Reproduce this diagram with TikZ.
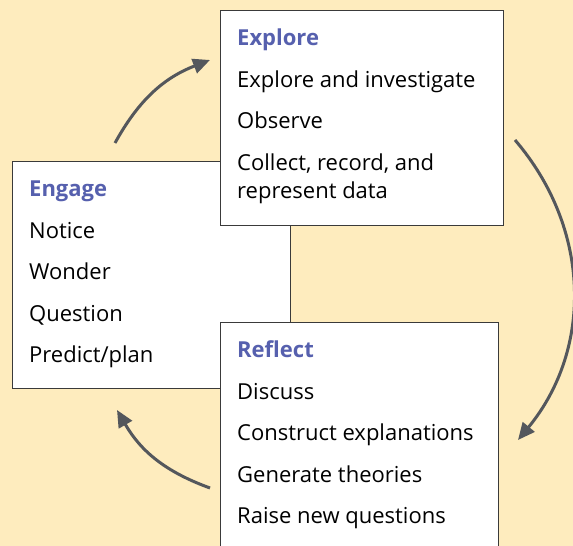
\documentclass[tikz,border=0pt]{standalone}
\usepackage{fontspec}
\setmainfont{Open Sans}
\usetikzlibrary{positioning, calc, arrows.meta}
\definecolor{cream}{RGB}{254,236,190}
\definecolor{stageblue}{RGB}{86,96,174}
\definecolor{cyclegray}{RGB}{84,87,92}
\definecolor{boxline}{RGB}{58,58,58}

\begin{document}
\begin{tikzpicture}[x=1pt, y=1pt,
  stage/.style = {draw=boxline, line width=1.2pt, fill=white, anchor=north west, inner sep=0pt},
  stagehead/.style = {anchor=base west, inner sep=0pt, text=stageblue, font=\fontsize{22}{28}\selectfont\bfseries},
  stageitem/.style = {anchor=base west, inner sep=0pt, align=left, font=\fontsize{22}{28}\selectfont},
  cyclearrow/.style = {draw=cyclegray, line width=3pt, -{Triangle[length=17pt, width=15pt]}}]

 \path[fill=cream] (0,0) rectangle (573,546);
 \useasboundingbox (0,0) rectangle (573,546);
 \clip (0,0) rectangle (573,546);

 % engage box sits under the other two
 \node[stage, minimum width=278pt, minimum height=227pt] (engage) at (12,385) {};
 \node[stage, minimum width=283pt, minimum height=215pt] (explore) at (220,536) {};
 \node[stage, minimum width=278pt, minimum height=240pt] (reflect) at (220,224) {};

 \node[stagehead] (engage head) at ($(engage.north west)+(17,-36)$) {Engage};
 \foreach \txt [count=\i] in {Notice, Wonder, Question, Predict/plan}
   \node[stageitem] (engage item\i) at ($(engage head.base west)+(0,-41.5*\i)$) {\txt};

 \node[stagehead] (explore head) at ($(explore.north west)+(17,-36)$) {Explore};
 \foreach \txt [count=\i] in {Explore and investigate, Observe,
     {\vtop{\hbox{Collect, record, and}\hbox{represent data}}}}
   \node[stageitem] (explore item\i) at ($(explore head.base west)+(0,-41.5*\i)$) {\txt};

 \node[stagehead] (reflect head) at ($(reflect.north west)+(17,-36)$) {Reflect};
 \foreach \txt [count=\i] in {Discuss, Construct explanations, Generate theories, Raise new questions}
   \node[stageitem] (reflect item\i) at ($(reflect head.base west)+(0,-41.5*\i)$) {\txt};

 % cycle arrows
 \coordinate (engage out) at (115,403);
 \coordinate (explore in) at (210,486);
 \coordinate (explore out) at (515,406);
 \coordinate (reflect in) at (518,106);
 \coordinate (reflect out) at (210,58);
 \coordinate (engage in) at (117,136);
 \draw[cyclearrow] (engage out) to[bend left=20] (explore in);
 \draw[cyclearrow] (explore out) to[bend left=40] (reflect in);
 \draw[cyclearrow] (reflect out) to[bend left=20] (engage in);
\end{tikzpicture}
\end{document}
